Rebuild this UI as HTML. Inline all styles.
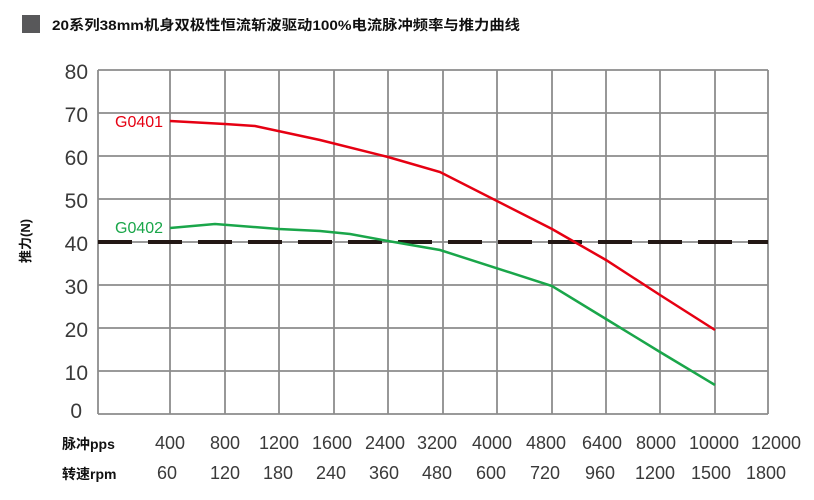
<!DOCTYPE html>
<html><head><meta charset="utf-8"><style>
body{margin:0;background:#fff;width:814px;height:500px;overflow:hidden}
svg{display:block}
</style></head><body>
<svg width="814" height="500" xmlns="http://www.w3.org/2000/svg" font-family="Liberation Sans, Noto Sans CJK SC, sans-serif">
<rect x="22" y="15" width="18" height="18" fill="#58585a"/>
<text x="52" y="30" font-size="14" font-weight="bold" fill="#111" textLength="468" lengthAdjust="spacingAndGlyphs">20系列38mm机身双极性恒流斩波驱动100%电流脉冲频率与推力曲线</text>
<g stroke="#8c8c8c" stroke-width="1.8" fill="none">
<line x1="98" y1="70" x2="768" y2="70"/><line x1="98" y1="113" x2="768" y2="113"/><line x1="98" y1="156" x2="768" y2="156"/><line x1="98" y1="199" x2="768" y2="199"/><line x1="98" y1="242" x2="768" y2="242"/><line x1="98" y1="285" x2="768" y2="285"/><line x1="98" y1="328" x2="768" y2="328"/><line x1="98" y1="371" x2="768" y2="371"/><line x1="98" y1="414" x2="768" y2="414"/>
<line x1="98" y1="70" x2="98" y2="414"/><line x1="170" y1="70" x2="170" y2="414"/><line x1="225" y1="70" x2="225" y2="414"/><line x1="279" y1="70" x2="279" y2="414"/><line x1="334" y1="70" x2="334" y2="414"/><line x1="388" y1="70" x2="388" y2="414"/><line x1="443" y1="70" x2="443" y2="414"/><line x1="497" y1="70" x2="497" y2="414"/><line x1="552" y1="70" x2="552" y2="414"/><line x1="606" y1="70" x2="606" y2="414"/><line x1="660" y1="70" x2="660" y2="414"/><line x1="715" y1="70" x2="715" y2="414"/><line x1="768" y1="70" x2="768" y2="414"/>
</g>
<line x1="98" y1="242" x2="768" y2="242" stroke="#231815" stroke-width="4" stroke-dasharray="34 16"/>
<polyline fill="none" stroke="#e60012" stroke-width="2.5" points="170,121 225,124 255,126 320,140 388,157 440,172 552,229 606,260 660,295 715,330"/>
<polyline fill="none" stroke="#1aa64a" stroke-width="2.5" points="170,228 215,224 279,229 320,231 350,234 388,241 440,250 552,286 606,319 660,352 715,385"/>
<text x="115" y="127" font-size="16" fill="#e60012">G0401</text>
<text x="115" y="233" font-size="16" fill="#1aa64a">G0402</text>
<g font-size="21" fill="#3a3a3a" text-anchor="end">
<text x="88" y="79">80</text><text x="88" y="122">70</text><text x="88" y="165">60</text><text x="88" y="208">50</text><text x="88" y="251">40</text><text x="88" y="294">30</text><text x="88" y="337">20</text><text x="88" y="380">10</text><text x="82" y="418">0</text>
</g>
<text transform="translate(30,241) rotate(-90)" font-size="13" font-weight="bold" text-anchor="middle" fill="#111">推力(N)</text>
<text x="62" y="449" font-size="14" font-weight="bold" fill="#111">脉冲pps</text>
<text x="62" y="479" font-size="14" font-weight="bold" fill="#111">转速rpm</text>
<g font-size="18" fill="#3a3a3a" text-anchor="middle">
<text x="170" y="449">400</text><text x="225" y="449">800</text><text x="279" y="449">1200</text><text x="332" y="449">1600</text><text x="385" y="449">2400</text><text x="437" y="449">3200</text><text x="492" y="449">4000</text><text x="546" y="449">4800</text><text x="602" y="449">6400</text><text x="656" y="449">8000</text><text x="714" y="449">10000</text><text x="776" y="449">12000</text>
<text x="167" y="479">60</text><text x="225" y="479">120</text><text x="278" y="479">180</text><text x="331" y="479">240</text><text x="384" y="479">360</text><text x="437" y="479">480</text><text x="491" y="479">600</text><text x="545" y="479">720</text><text x="600" y="479">960</text><text x="655" y="479">1200</text><text x="711" y="479">1500</text><text x="766" y="479">1800</text>
</g>
</svg>
</body></html>
